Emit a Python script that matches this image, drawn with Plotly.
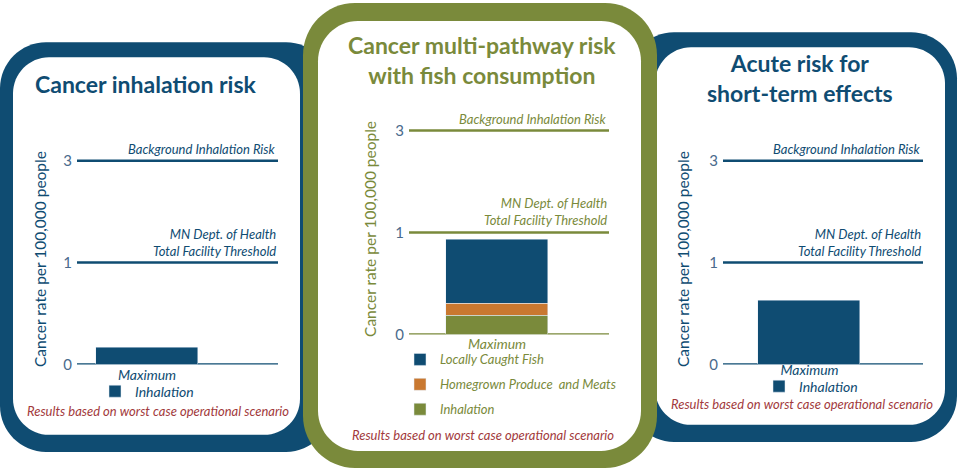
import plotly.graph_objects as go

# ---- data ----
categories = ["Maximum"]
tick_values = [0, 1, 3]
threshold_values = [3, 1]
threshold_labels = ["Background Inhalation Risk",
                    "MN Dept. of Health<br>Total Facility Threshold"]

inhalation_risk = [0.17]            # cancer inhalation risk
fish_risk = [0.63]                  # multi-pathway: locally caught fish
produce_risk = [0.11]               # multi-pathway: homegrown produce and meats
multi_inhalation_risk = [0.19]      # multi-pathway: inhalation
acute_risk = [0.63]                 # acute risk for short-term effects

note = "Results based on worst case operational scenario"
ytitle = "Cancer rate per 100,000 people"

BLUE = "#0f4c72"
OLIVE = "#7a8a3b"
ORANGE = "#c97830"
RED = "#a23a3c"
TICK = "#4a6a8c"
FONT = "Lato"

W, H = 960, 468      # layout grid (reference pixels)
FIG_H = 478          # rendered height of the figure


def pos(v):
    # the value axis is stretched above 1 (0, 1, 3 equally spaced)
    return v if v <= 1 else 1 + (v - 1) / 2


def px(x):
    return x / W


def py(y):
    return 1 - y / H


def rounded(x0, y0, x1, y1, r):
    k = 0.55 * r
    pts = [
        f"M{px(x0 + r)},{py(y0)}", f"L{px(x1 - r)},{py(y0)}",
        f"C{px(x1 - r + k)},{py(y0)} {px(x1)},{py(y0 + r - k)} {px(x1)},{py(y0 + r)}",
        f"L{px(x1)},{py(y1 - r)}",
        f"C{px(x1)},{py(y1 - r + k)} {px(x1 - r + k)},{py(y1)} {px(x1 - r)},{py(y1)}",
        f"L{px(x0 + r)},{py(y1)}",
        f"C{px(x0 + r - k)},{py(y1)} {px(x0)},{py(y1 - r + k)} {px(x0)},{py(y1 - r)}",
        f"L{px(x0)},{py(y0 + r)}",
        f"C{px(x0)},{py(y0 + r - k)} {px(x0 + r - k)},{py(y0)} {px(x0 + r)},{py(y0)}",
        "Z",
    ]
    return " ".join(pts)


def label(x, y, text, size, color, **kw):
    opts = dict(xref="paper", yref="paper", x=px(x), y=py(y), text=text,
                showarrow=False, xanchor="center", yanchor="middle",
                font=dict(family=FONT, size=size, color=color))
    opts.update(kw)
    fig.add_annotation(**opts)


fig = go.Figure()

# panels: (axis suffix, plot left, plot right, zero line px, x range, colour, label standoff)
panels = [
    ("", 77, 278, 363, [-0.686, 1.284], BLUE, 0),
    ("2", 409, 609, 333, [-0.863, 1.098], OLIVE, 0),
    ("3", 723, 923, 363, [-0.848, 1.113], BLUE, -5),
]
unit = 101.5
top = 2.1

# background boxes
boxes = [
    (0, 42, 332, 450, 46, BLUE),
    (628, 32, 957, 440, 46, BLUE),
    (13, 57, 300, 433, 36, "white"),
    (655, 47, 945, 423, 36, "white"),
    (303, 3, 657, 466, 52, OLIVE),
    (318, 21, 641, 449, 40, "white"),
]
for x0, y0, x1, y1, r, c in boxes:
    fig.add_shape(type="path", path=rounded(x0, y0, x1, y1, r), xref="paper",
                  yref="paper", fillcolor=c, line_width=0, layer="below")

# bars
fig.add_trace(go.Bar(x=categories, y=inhalation_risk, name="<i>Inhalation</i>",
                     marker_color=BLUE, width=1, xaxis="x", yaxis="y",
                     legend="legend", showlegend=True))
fig.add_trace(go.Bar(x=categories, y=multi_inhalation_risk, name="<i>Inhalation</i>",
                     marker_color=OLIVE, width=1, xaxis="x2", yaxis="y2",
                     legend="legend2", legendgroup="c", legendrank=3))
fig.add_trace(go.Bar(x=categories, y=produce_risk,
                     name="<i>Homegrown Produce  and Meats</i>",
                     marker_color=ORANGE, width=1, xaxis="x2", yaxis="y2",
                     legend="legend2", legendgroup="b", legendrank=2))
fig.add_trace(go.Bar(x=categories, y=fish_risk, name="<i>Locally Caught Fish</i>",
                     marker_color=BLUE, width=1, xaxis="x2", yaxis="y2",
                     legend="legend2", legendgroup="a", legendrank=1))
fig.add_trace(go.Bar(x=categories, y=acute_risk, name="<i>Inhalation</i>",
                     marker_color=BLUE, width=1, xaxis="x3", yaxis="y3",
                     legend="legend3", showlegend=True))

layout = {}
for suf, left, right, zero, xr, col, standoff in panels:
    xr_name = "x" + suf
    yr_name = "y" + suf
    layout["xaxis" + suf] = dict(
        domain=[px(left), px(right)], anchor=yr_name, type="category",
        range=xr, showgrid=False, showline=False, zeroline=False, ticks="",
        tickfont=dict(family=FONT, size=14, color=col, style="italic"),
        ticklabelstandoff=standoff)
    layout["yaxis" + suf] = dict(
        domain=[py(zero), py(zero - top * unit)], anchor=xr_name,
        range=[0, top], showgrid=False, showline=False, zeroline=False,
        tickvals=[pos(v) for v in tick_values],
        ticktext=[str(v) for v in tick_values], ticks="",
        tickfont=dict(family=FONT, size=15, color=TICK), ticklabelstandoff=4)
    # baseline and threshold lines
    for v in [0] + threshold_values:
        fig.add_shape(type="line", xref=xr_name + " domain", yref=yr_name,
                      x0=0, x1=1, y0=pos(v), y1=pos(v),
                      line=dict(color=col, width=2.5), layer="below")
    for v, lab in zip(threshold_values, threshold_labels):
        fig.add_annotation(xref=xr_name + " domain", yref=yr_name, x=1, y=pos(v),
                           text="<i>" + lab + "</i>", showarrow=False,
                           xanchor="right", yanchor="bottom", align="right",
                           yshift=2, font=dict(family=FONT, size=13, color=col))

# axis titles
for x, y, col in [(40, 258, BLUE), (370, 228, OLIVE), (683, 258, BLUE)]:
    label(x, y, ytitle, 15.5, col, textangle=-90)

# panel titles
label(33, 84, "<b>Cancer inhalation risk</b>", 23, BLUE, xanchor="left")
label(482, 60, "<b>Cancer multi-pathway risk<br>with fish consumption</b>", 23, OLIVE)
label(800, 78, "<b>Acute risk for<br>short-term effects</b>", 23, BLUE)

# notes
for x, y in [(158, 409), (483, 433), (802, 402)]:
    label(x, y, "<i>" + note + "</i>", 13, RED)

leg = dict(bgcolor="rgba(0,0,0,0)", xanchor="left", yanchor="top",
           itemclick=False, itemdoubleclick=False)
layout["legend"] = dict(leg, x=px(95), y=py(374),
                        font=dict(family=FONT, size=14, color=BLUE))
layout["legend2"] = dict(leg, x=px(400), y=py(343), tracegroupgap=5,
                         font=dict(family=FONT, size=13, color=OLIVE))
layout["legend3"] = dict(leg, x=px(759), y=py(369),
                         font=dict(family=FONT, size=14, color=BLUE))

fig.update_layout(
    width=W, height=FIG_H, margin=dict(l=0, r=0, t=0, b=0),
    paper_bgcolor="white", plot_bgcolor="rgba(0,0,0,0)",
    barmode="stack", bargap=0, font=dict(family=FONT),
    **layout,
)

# pin the figure to the page corner with no stray margin or scroll area
page_js = ("document.body.style.margin='0';"
           "document.body.style.overflow='hidden';"
           "document.querySelectorAll('.plotly-graph-div').forEach("
           "function(d){d.style.display='block';d.parentNode.style.lineHeight='0';});")
fig.write_html("out.html", post_script=page_js,
               config={"displayModeBar": False})
